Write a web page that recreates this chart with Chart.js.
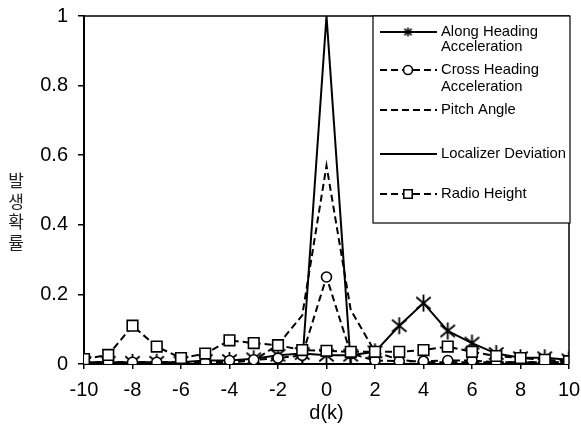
<!DOCTYPE html>
<html><head><meta charset="utf-8">
<script src="https://cdn.jsdelivr.net/npm/chart.js@4/dist/chart.umd.min.js"></script>
<style>html,body{margin:0;padding:0;background:#fff}#wrap{width:581px;height:424px}</style>
</head><body><div id="wrap"><canvas id="c" width="581" height="424"></canvas></div>
<script>
const dk = [-10,-9,-8,-7,-6,-5,-4,-3,-2,-1,0,1,2,3,4,5,6,7,8,9,10];
const alongHeading = [0.005,0.005,0.005,0.005,0.005,0.01,0.01,0.015,0.025,0.03,0.025,0.025,0.035,0.11,0.175,0.095,0.06,0.03,0.018,0.018,0.012];
const crossHeading = [0.005,0.005,0.005,0.005,0.005,0.005,0.01,0.012,0.017,0.025,0.25,0.03,0.01,0.008,0.008,0.01,0.01,0.005,0.005,0.005,0.005];
const pitchAngle = [0.005,0.005,0.005,0.005,0.005,0.005,0.005,0.01,0.055,0.14,0.57,0.155,0.035,0.012,0.005,0.005,0.005,0.005,0.005,0.005,0.005];
const localizerDeviation = [0,0,0,0,0,0,0,0,0,0,1,0,0,0,0,0,0,0,0,0,0];
const radioHeight = [0.014,0.026,0.11,0.05,0.017,0.03,0.068,0.06,0.054,0.04,0.038,0.035,0.035,0.035,0.04,0.05,0.035,0.023,0.017,0.012,0.008];
const seriesNames = [['Along Heading','Acceleration'],['Cross Heading','Acceleration'],['Pitch Angle'],['Localizer Deviation'],['Radio Height']];
const yTitleChars = ['발','생','확','률'];
const xTitle = 'd(k)';

const toXY = arr => arr.map((v,i)=>({x:dk[i], y:v}));
const DASH = [7,4];
const FONT = '"Liberation Sans", Arial, sans-serif';

function makeStar(size, lw){
  const c = document.createElement('canvas');
  c.width = size; c.height = size;
  const g = c.getContext('2d');
  const m = size/2, r = size/2 - 1;
  g.strokeStyle = '#000'; g.lineWidth = lw; g.lineCap = 'butt';
  g.beginPath();
  g.moveTo(m - r*0.85, m - r*0.7); g.lineTo(m + r*0.85, m + r*0.7);
  g.moveTo(m + r*0.85, m - r*0.7); g.lineTo(m - r*0.85, m + r*0.7);
  g.moveTo(m, m - r); g.lineTo(m, m + r);
  g.stroke();
  return c;
}
const starBig = makeStar(19, 1.8);
const starSmall = makeStar(11, 1.6);

const datasets = [
  {label:seriesNames[0].join(' '), data:toXY(alongHeading), borderColor:'#000', borderWidth:2, pointStyle:starBig, pointRadius:8, order:3, legendImg:starSmall},
  {label:seriesNames[1].join(' '), data:toXY(crossHeading), borderColor:'#000', borderWidth:2, borderDash:DASH, pointStyle:'circle', pointRadius:5, pointBorderWidth:1.6, pointBorderColor:'#000', pointBackgroundColor:'#fff', order:2, legendRadius:4.5, legendStyle:'circle'},
  {label:seriesNames[2].join(' '), data:toXY(pitchAngle), borderColor:'#000', borderWidth:2, borderDash:DASH, pointRadius:0, order:4},
  {label:seriesNames[3].join(' '), data:toXY(localizerDeviation), borderColor:'#000', borderWidth:2, pointRadius:0, order:5},
  {label:seriesNames[4].join(' '), data:toXY(radioHeight), borderColor:'#000', borderWidth:2, borderDash:DASH, pointStyle:'rect', pointRadius:7.5, pointBorderWidth:1.6, pointBorderColor:'#000', pointBackgroundColor:'#fff', order:1, legendRadius:6, legendStyle:'rect'}
];

const decor = {
  id:'decor',
  afterDraw(chart){
    const ctx = chart.ctx, a = chart.chartArea;
    ctx.save();
    ctx.strokeStyle='#000'; ctx.lineWidth=1.5; ctx.setLineDash([]);
    ctx.beginPath(); ctx.moveTo(a.left,a.top); ctx.lineTo(a.right,a.top); ctx.lineTo(a.right,a.bottom); ctx.stroke();
    ctx.fillStyle='#222'; ctx.font='17px "Noto Sans CJK KR", sans-serif'; ctx.textAlign='center'; ctx.textBaseline='middle';
    yTitleChars.forEach((ch,i)=>ctx.fillText(ch, 16, 181 + i*20.5));
    const bx=373, by=16, bw=197, bh=207;
    ctx.fillStyle='#fff'; ctx.fillRect(bx,by,bw,bh);
    ctx.lineWidth=1.2; ctx.strokeStyle='#000'; ctx.strokeRect(bx,by,bw,bh);
    const rows = [[32,47],[70,87],[110],[154],[194]];
    ctx.font='14.8px '+FONT; ctx.textAlign='left'; ctx.textBaseline='middle';
    chart.data.datasets.forEach((ds,i)=>{
      const y = rows[i][0];
      ctx.save();
      ctx.strokeStyle='#000'; ctx.lineWidth=2; ctx.setLineDash(ds.borderDash||[]);
      ctx.beginPath(); ctx.moveTo(380,y); ctx.lineTo(437,y); ctx.stroke();
      ctx.restore();
      if (ds.legendImg){
        ctx.drawImage(ds.legendImg, 408 - ds.legendImg.width/2, y - ds.legendImg.height/2);
      } else if (ds.legendStyle){
        ctx.save(); ctx.setLineDash([]);
        ctx.fillStyle='#fff'; ctx.strokeStyle='#000'; ctx.lineWidth=1.6;
        Chart.helpers.drawPoint(ctx,{pointStyle:ds.legendStyle, radius:ds.legendRadius, borderWidth:1.6, rotation:0}, 408, y);
        ctx.restore();
      }
      ctx.fillStyle='#000';
      seriesNames[i].forEach((t,j)=>ctx.fillText(t, 441, rows[i][j]));
    });
    ctx.restore();
  }
};

new Chart(document.getElementById('c'), {
  type:'line',
  data:{datasets},
  plugins:[decor],
  options:{
    responsive:false, animation:false, devicePixelRatio:1,
    layout:{padding:{left:0,right:12,top:16,bottom:0}},
    plugins:{legend:{display:false}, tooltip:{enabled:false}},
    elements:{line:{tension:0}},
    scales:{
      x:{type:'linear', min:-10, max:10,
        afterFit(s){s.height=60; s.paddingLeft=0; s.paddingRight=0;},
        ticks:{stepSize:2, color:'#000', font:{family:FONT,size:20}, padding:9, maxRotation:0},
        grid:{drawOnChartArea:false, drawTicks:true, tickLength:5, color:'#000', lineWidth:1.5},
        border:{display:true, color:'#000', width:2},
        title:{display:true, text:xTitle, color:'#000', font:{family:FONT,size:20}, padding:{top:0,bottom:-1}}
      },
      y:{type:'linear', min:0, max:1,
        afterFit(s){s.width=84; s.paddingTop=0; s.paddingBottom=0;},
        ticks:{stepSize:0.2, color:'#000', font:{family:FONT,size:20}, padding:10,
          callback:v=>String(Number(v.toFixed(1)))},
        grid:{drawOnChartArea:false, drawTicks:true, tickLength:6, color:'#000', lineWidth:1.5},
        border:{display:true, color:'#000', width:2}
      }
    }
  }
});
</script></body></html>
